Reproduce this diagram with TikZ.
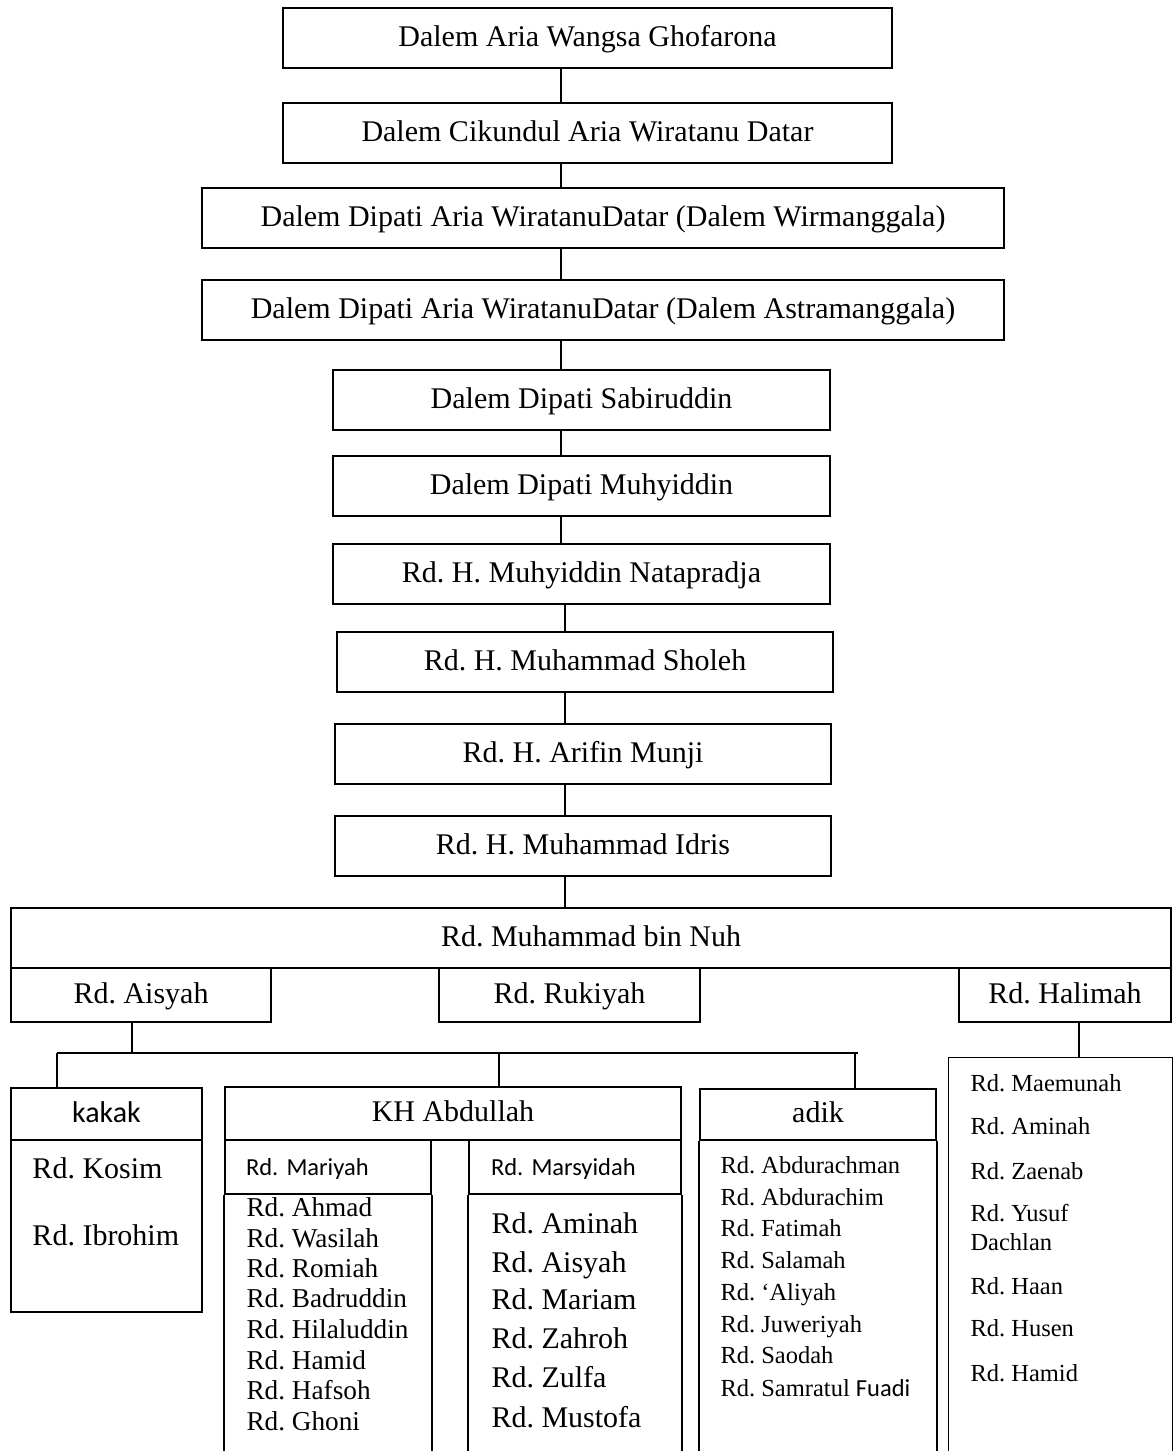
\documentclass[tikz,border=0pt]{standalone}
\usepackage{fontspec}
\setmainfont{Liberation Serif}
\newfontfamily\calibri{Carlito}
\frenchspacing
\newcommand{\bigtxt}{\fontsize{12}{14}\selectfont}
\newcommand{\midtxt}{\fontsize{10.9}{12}\selectfont}
\newcommand{\smalltxt}{\fontsize{9.8}{11}\selectfont}
\tikzset{
  box/.style={draw, line width=0.7pt, inner sep=0pt, font=\bigtxt, text height=8.5pt, text depth=2pt},
  frame/.style={line width=0.7pt},
  link/.style={line width=0.5pt},
  entry/.style={anchor=base west, inner sep=0pt}
}

\begin{document}
\begin{tikzpicture}[x=0.4pt,y=-0.4pt]
\useasboundingbox (0,0) rectangle (1175,1451);
    % Garis keturunan
    \node[box, minimum width=243.6pt, minimum height=24pt] (gen1) at (587.5,38) {Dalem Aria Wangsa Ghofarona};
    \node[box, minimum width=243.6pt, minimum height=24pt] (gen2) at (587.5,133) {Dalem Cikundul Aria Wiratanu Datar};
    \node[box, minimum width=320.8pt, minimum height=24pt] (gen3) at (603,218) {Dalem Dipati Aria WiratanuDatar (Dalem Wirmanggala)};
    \node[box, minimum width=320.8pt, minimum height=24pt] (gen4) at (603,310) {Dalem Dipati Aria WiratanuDatar (Dalem Astramanggala)};
    \node[box, minimum width=198.8pt, minimum height=24pt] (gen5) at (581.5,400) {Dalem Dipati Sabiruddin};
    \node[box, minimum width=198.8pt, minimum height=24pt] (gen6) at (581.5,486) {Dalem Dipati Muhyiddin};
    \node[box, minimum width=198.8pt, minimum height=24pt] (gen7) at (581.5,574) {Rd. H. Muhyiddin Natapradja};
    \node[box, minimum width=198.4pt, minimum height=24pt] (gen8) at (585,662) {Rd. H. Muhammad Sholeh};
    \node[box, minimum width=198.4pt, minimum height=24pt] (gen9) at (583,754) {Rd. H. Arifin Munji};
    \node[box, minimum width=198.4pt, minimum height=24pt] (gen10) at (583,846) {Rd. H. Muhammad Idris};
    \node[box, minimum width=464pt, minimum height=24pt] (nuh) at (591,938) {Rd. Muhammad bin Nuh};

    % Anak
    \node[box, minimum width=104pt, minimum height=21.6pt] (aisyah) at (141,995) {Rd. Aisyah};
    \node[box, minimum width=104.4pt, minimum height=21.6pt] (rukiyah) at (569.5,995) {Rd. Rukiyah};
    \node[box, minimum width=84.8pt, minimum height=21.6pt] (halimah) at (1065,995) {Rd. Halimah};

    % Cucu
    \node[box, minimum width=76.4pt, minimum height=20.8pt, font=\calibri\bigtxt] (kakak) at (106.5,1114) {kakak};
    \node[box, minimum width=76.4pt, minimum height=68.8pt] (kakakbody) at (106.5,1226) {};
    \node[box, minimum width=182.4pt, minimum height=21.2pt] (abdullah) at (453,1113.5) {KH Abdullah};
    \node[box, minimum width=82.4pt, minimum height=21.6pt, font=\calibri\smalltxt, inner xsep=8.4pt, text width=65.6pt, align=left] (mariyah) at (328,1167) {Rd. Mariyah};
    \node[box, minimum width=84.8pt, minimum height=21.6pt, font=\calibri\smalltxt, inner xsep=8.8pt, text width=67.2pt, align=left] (marsyidah) at (575,1167) {Rd. Marsyidah};
    \node[box, minimum width=94.4pt, minimum height=20.4pt] (adik) at (818,1114.5) {adik};
    \node[minimum width=89.2pt, minimum height=157.2pt, inner sep=0pt] (hlist) at (1060.5,1254.5) {};

    % Kolom terbuka ke bawah
    \coordinate (bottom) at (0,1451);
    \draw[frame] (mariyah.south west) -- (mariyah.south west |- bottom);
    \draw[frame] (mariyah.south east) -- (mariyah.south east |- bottom);
    \draw[frame] (marsyidah.south west) -- (marsyidah.south west |- bottom);
    \draw[frame] (marsyidah.south east) -- (marsyidah.south east |- bottom);
    \draw[frame] (adik.south west) -- (adik.south west |- bottom);
    \draw[frame] (adik.south east) -- (adik.south east |- bottom);
    \draw[frame] (hlist.south west) |- (hlist.north) -| (hlist.south east);

    % Garis penghubung
    \coordinate (spine) at (561,0);
    \coordinate (spinetwo) at (565,0);
    \draw[link] (gen1.south -| spine) -- (gen2.north -| spine);
    \draw[link] (gen2.south -| spine) -- (gen3.north -| spine);
    \draw[link] (gen3.south -| spine) -- (gen4.north -| spine);
    \draw[link] (gen4.south -| spine) -- (gen5.north -| spine);
    \draw[link] (gen5.south -| spine) -- (gen6.north -| spine);
    \draw[link] (gen6.south -| spine) -- (gen7.north -| spine);
    \draw[link] (gen7.south -| spinetwo) -- (gen8.north -| spinetwo);
    \draw[link] (gen8.south -| spinetwo) -- (gen9.north -| spinetwo);
    \draw[link] (gen9.south -| spinetwo) -- (gen10.north -| spinetwo);
    \draw[link] (gen10.south -| spinetwo) -- (nuh.north -| spinetwo);

    \coordinate (adrop) at (132,0);
    \coordinate (busL) at (57,1053);
    \coordinate (busR) at (858,1053);
    \coordinate (kdrop) at (499,0);
    \coordinate (idrop) at (855,0);
    \coordinate (hdrop) at (1079,0);
    \draw[link] (aisyah.south -| adrop) -- (busL -| adrop);
    \draw[link] (busL) -- (busR);
    \draw[link] (busL) -- (kakak.north -| busL);
    \draw[link] (busL -| kdrop) -- (abdullah.north -| kdrop);
    \draw[link] (busL -| idrop) -- (adik.north -| idrop);
    \draw[link] (halimah.south -| hdrop) -- (hlist.north -| hdrop);

    % kakak
    \node[entry, font=\bigtxt] (k1) at (32,1178) {Rd. Kosim};
    \node[entry, font=\bigtxt] (k2) at (32,1245) {Rd. Ibrohim};

    % Rd. Mariyah
    \node[entry, font=\midtxt] (m1) at (246,1216) {Rd. Ahmad};
    \node[entry, font=\midtxt] (m2) at (246,1247) {Rd. Wasilah};
    \node[entry, font=\midtxt] (m3) at (246,1277) {Rd. Romiah};
    \node[entry, font=\midtxt] (m4) at (246,1307) {Rd. Badruddin};
    \node[entry, font=\midtxt] (m5) at (246,1338) {Rd. Hilaluddin};
    \node[entry, font=\midtxt] (m6) at (246,1369) {Rd. Hamid};
    \node[entry, font=\midtxt] (m7) at (246,1399) {Rd. Hafsoh};
    \node[entry, font=\midtxt] (m8) at (246,1430) {Rd. Ghoni};

    % Rd. Marsyidah
    \node[entry, font=\bigtxt] (s1) at (491,1233) {Rd. Aminah};
    \node[entry, font=\bigtxt] (s2) at (491,1272) {Rd. Aisyah};
    \node[entry, font=\bigtxt] (s3) at (491,1309) {Rd. Mariam};
    \node[entry, font=\bigtxt] (s4) at (491,1348) {Rd. Zahroh};
    \node[entry, font=\bigtxt] (s5) at (491,1387) {Rd. Zulfa};
    \node[entry, font=\bigtxt] (s6) at (491,1427) {Rd. Mustofa};

    % adik
    \node[entry, font=\smalltxt] (a1) at (720,1173) {Rd. Abdurachman};
    \node[entry, font=\smalltxt] (a2) at (720,1205) {Rd. Abdurachim};
    \node[entry, font=\smalltxt] (a3) at (720,1236) {Rd. Fatimah};
    \node[entry, font=\smalltxt] (a4) at (720,1268) {Rd. Salamah};
    \node[entry, font=\smalltxt] (a5) at (720,1300) {Rd. `Aliyah};
    \node[entry, font=\smalltxt] (a6) at (720,1332) {Rd. Juweriyah};
    \node[entry, font=\smalltxt] (a7) at (720,1363) {Rd. Saodah};
    \node[entry, font=\smalltxt] (a8) at (720,1396) {Rd. Samratul {\calibri Fuadi}};

    % Rd. Halimah
    \node[entry, font=\smalltxt] (h1) at (970,1091) {Rd. Maemunah};
    \node[entry, font=\smalltxt] (h2) at (970,1134) {Rd. Aminah};
    \node[entry, font=\smalltxt] (h3) at (970,1179) {Rd. Zaenab};
    \node[entry, font=\smalltxt] (h4) at (970,1221) {Rd. Yusuf};
    \node[entry, font=\smalltxt] (h5) at (970,1250) {Dachlan};
    \node[entry, font=\smalltxt] (h6) at (970,1294) {Rd. Haan};
    \node[entry, font=\smalltxt] (h7) at (970,1336) {Rd. Husen};
    \node[entry, font=\smalltxt] (h8) at (970,1381) {Rd. Hamid};
\end{tikzpicture}
\end{document}
